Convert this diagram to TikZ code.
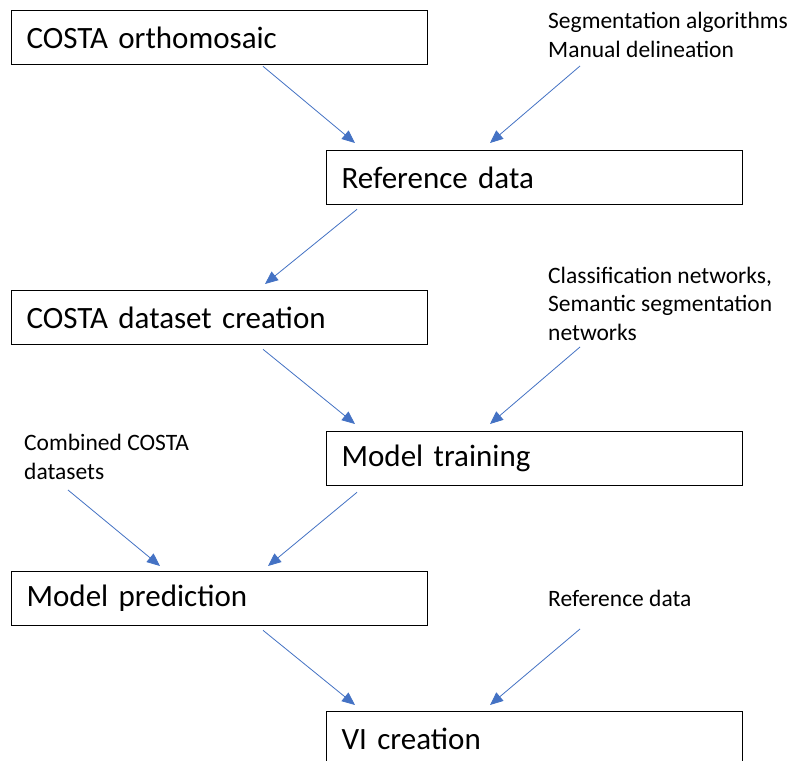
\documentclass[tikz,border=0pt]{standalone}
\usepackage{fontspec}
\setmainfont{Carlito}
\usetikzlibrary{arrows.meta,calc}
\definecolor{arrblue}{RGB}{68,114,196}
\tikzset{
  box/.style={draw=black, line width=1.3pt, anchor=north west, minimum width=416pt, minimum height=54pt,
    inner xsep=15pt, inner ysep=0pt, text width=386pt, align=left, font=\fontsize{31}{36}\selectfont},
  lbl/.style={anchor=base west, inner sep=0pt, align=left, font=\fontsize{23.5}{28.5}\selectfont},
  arr/.style={draw=arrblue, line width=0.8pt, -{Triangle[length=13pt,width=11pt]}}
}
\begin{document}
\begin{tikzpicture}[x=1pt,y=-1pt]
\useasboundingbox (0,0) rectangle (800,760);
\clip (0,0) rectangle (800,760);
\fill[white] (0,0) rectangle (800,760);

\node[box] (b1) at (11,10) {COSTA orthomosaic};
\node[box] (b2) at (326,150) {Reference data};
\node[box] (b3) at (11,290) {COSTA dataset creation};
\node[box] (b4) at (326,431) {Model training};
\node[box] (b5) at (11,571) {Model prediction};
\node[box] (b6) at (326,711) {VI creation};

\node[lbl] (t1) at (548,57) {Segmentation algorithms\\Manual delineation};
\node[lbl] (t2) at (548,340) {Classification networks,\\Semantic segmentation\\networks};
\node[lbl] (t3) at (24,479) {Combined COSTA\\datasets};
\node[lbl] (t4) at (548,606) {Reference data};

\coordinate (s1) at (580,66);
\coordinate (s2) at (580,347);
\coordinate (s3) at (68,490);
\coordinate (s4) at (580,629);

\draw[arr] ($(b1.south west)+(252,1)$) -- ($(b2.north west)+(29,-7)$);
\draw[arr] (s1) -- ($(b2.north west)+(164,-7)$);
\draw[arr] ($(b2.south west)+(31,4)$) -- ($(b3.north west)+(254,-6)$);
\draw[arr] ($(b3.south west)+(252,4)$) -- ($(b4.north west)+(29,-7)$);
\draw[arr] (s2) -- ($(b4.north west)+(164,-7)$);
\draw[arr] (s3) -- ($(b5.north west)+(149,-5)$);
\draw[arr] ($(b4.south west)+(31,6)$) -- ($(b5.north west)+(257,-5)$);
\draw[arr] ($(b5.south west)+(252,4)$) -- ($(b6.north west)+(29,-6)$);
\draw[arr] (s4) -- ($(b6.north west)+(164,-6)$);
\end{tikzpicture}
\end{document}
